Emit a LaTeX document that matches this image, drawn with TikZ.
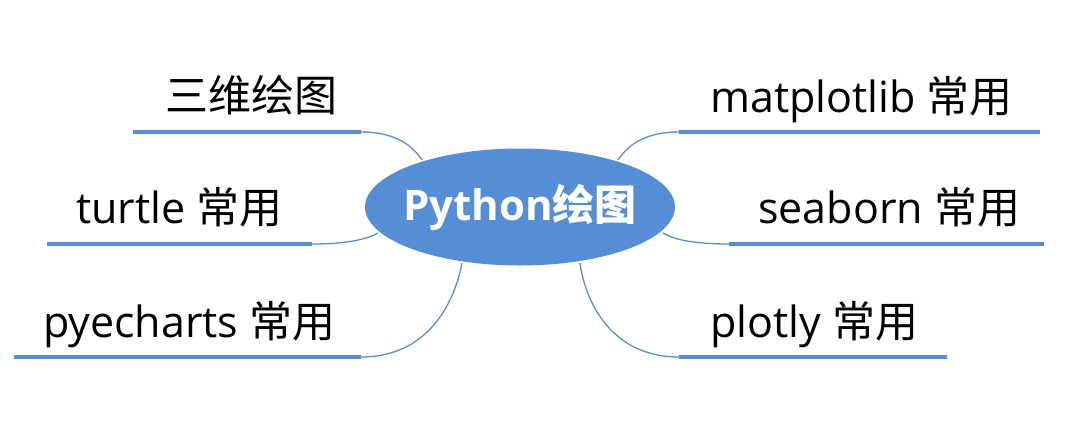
\documentclass[tikz,border=0pt]{standalone}
\usepackage{fontspec}
\setmainfont{Open Sans}
\newfontfamily\cjk{Noto Sans CJK SC}
\usetikzlibrary{shapes.geometric}
\definecolor{mmblue}{HTML}{558ED5}
\tikzset{
  topic/.style={font=\fontsize{43}{46}\selectfont, text=black, inner sep=0pt, anchor=base west},
  rule/.style={draw=mmblue, line width=4.5pt},
  link/.style={draw=mmblue, line width=1.3pt},
}
\begin{document}
\begin{tikzpicture}[x=1pt,y=-1pt]
\useasboundingbox (0,0) rectangle (1080,445);
% connectors first
\coordinate (a1) at (133,132); \coordinate (b1) at (361,132);
\coordinate (a2) at (47,244);  \coordinate (b2) at (312,244);
\coordinate (a3) at (14,357);  \coordinate (b3) at (361,357);
\coordinate (a4) at (1040,132); \coordinate (b4) at (679,132);
\coordinate (a5) at (1044,244); \coordinate (b5) at (729,244);
\coordinate (a6) at (947,357);  \coordinate (b6) at (679,357);
\coordinate (e1) at (422,160);
\coordinate (e2) at (378,233);
\coordinate (e3) at (462,263);
\coordinate (e4) at (618,160);
\coordinate (e5) at (663,233);
\coordinate (e6) at (580,263);
\draw[link] (b1) .. controls (395,132) and (412,145) .. (e1);
\draw[link] (b2) .. controls (345,244) and (365,240) .. (e2);
\draw[link] (b3) .. controls (430,357) and (455,300) .. (e3);
\draw[link] (b4) .. controls (645,132) and (628,145) .. (e4);
\draw[link] (b5) .. controls (695,244) and (675,240) .. (e5);
\draw[link] (b6) .. controls (610,357) and (585,300) .. (e6);
\node[ellipse, fill=mmblue, minimum width=310pt, minimum height=117pt, inner sep=0pt] (c) at (520,207) {};
\node[text=white, inner sep=0pt, font=\fontsize{42}{44}\selectfont\bfseries] (ct) at (c.center)
      {Python{\cjk\bfseries 绘图}};
% topics left
\node[topic] (t1) at (165,111) {\cjk 三维绘图};
\node[topic] (t2) at (76,223) {turtle {\cjk 常用}};
\node[topic] (t3) at (43,337) {pyecharts {\cjk 常用}};
% topics right
\node[topic] (t4) at (710,112) {matplotlib {\cjk 常用}};
\node[topic] (t5) at (758,223) {seaborn {\cjk 常用}};
\node[topic] (t6) at (710,337) {plotly {\cjk 常用}};
\draw[rule] (a1) -- (b1);
\draw[rule] (a2) -- (b2);
\draw[rule] (a3) -- (b3);
\draw[rule] (a4) -- (b4);
\draw[rule] (a5) -- (b5);
\draw[rule] (a6) -- (b6);
\end{tikzpicture}
\end{document}
